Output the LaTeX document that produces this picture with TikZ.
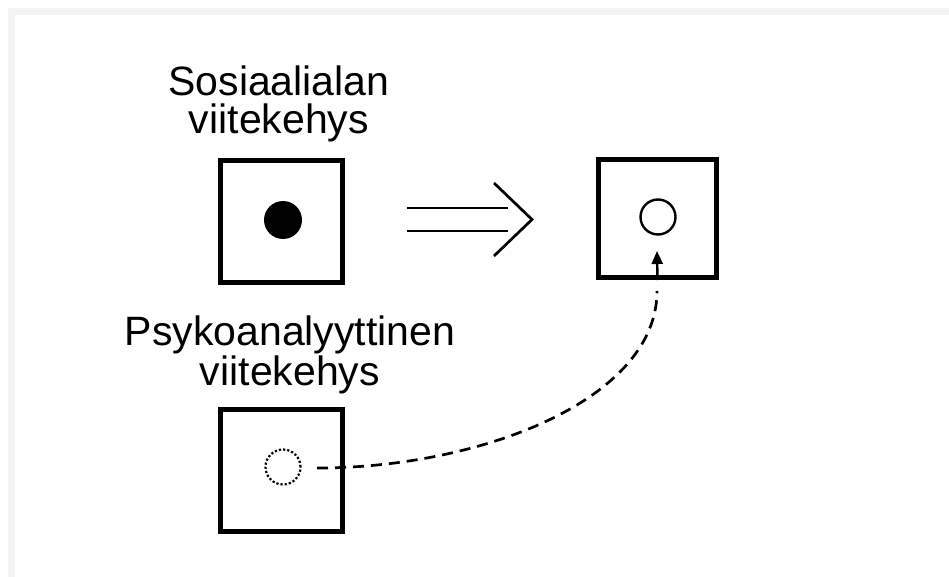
\documentclass[tikz,border=0pt]{standalone}
\usepackage{fontspec}
\setmainfont{Liberation Sans}
\usetikzlibrary{arrows.meta}
\definecolor{edgegray}{HTML}{F3F3F3}
\begin{document}
\begin{tikzpicture}[x=1pt,y=-1pt,
  frame/.style={draw, line width=5pt, rectangle, inner sep=0pt, minimum size=122pt},
  label/.style={align=center, inner sep=0pt, font=\fontsize{41}{38}\selectfont},
  spot/.style={circle, inner sep=0pt, minimum size=38pt},
  thinline/.style={line width=2.7pt},
]
\useasboundingbox (0,0) rectangle (949,577);
% faint page edge along the top and left
\fill[edgegray] (8,8) rectangle (949,15);
\fill[edgegray] (8,8) rectangle (15,577);

% headings (anchored at the baseline of their last line)
\node[label, anchor=base] (t1) at (279,134) {Sosiaalialan\\viitekehys};
\node[label, anchor=base] (t2) at (290,385) {Psykoanalyyttinen\\viitekehys};

% frames of reference
\node[frame] (b1) at (281.5,221.5) {};
\node[frame, minimum size=118pt] (b2) at (657.5,218.5) {};
\node[frame] (b3) at (281.5,470.5) {};

% contents of the frames
\node[spot, fill=black] (s1) at (283,220) {};
\node[spot, draw, line width=2.4pt, minimum size=35pt] (s2) at (658,217) {};
\node[spot, draw, dotted, line width=2.2pt, minimum size=35pt] (s3) at (283,467) {};

% double arrow between the upper frames
\coordinate (a1) at (407,208);
\coordinate (a2) at (508,208);
\coordinate (a3) at (407,231);
\coordinate (a4) at (508,231);
\coordinate (c1) at (494,183);
\coordinate (c2) at (532,219.5);
\coordinate (c3) at (494,256);
\draw[thinline] (a1) -- (a2);
\draw[thinline] (a3) -- (a4);
\draw[thinline, line join=miter] (c1) -- (c2) -- (c3);

% dashed transfer from the lower frame into the right frame
\coordinate (d0) at (317,468);
\coordinate (d1) at (657,291);
\coordinate (tip) at (657,251);
\draw[thinline, dash pattern=on 11pt off 7pt]
  (d0) .. controls (480,468) and (657,400) .. (d1);
\draw[line width=2.4pt, -{Triangle[length=13pt,width=11pt]}] (b2.south) -- (tip);
\end{tikzpicture}
\end{document}
